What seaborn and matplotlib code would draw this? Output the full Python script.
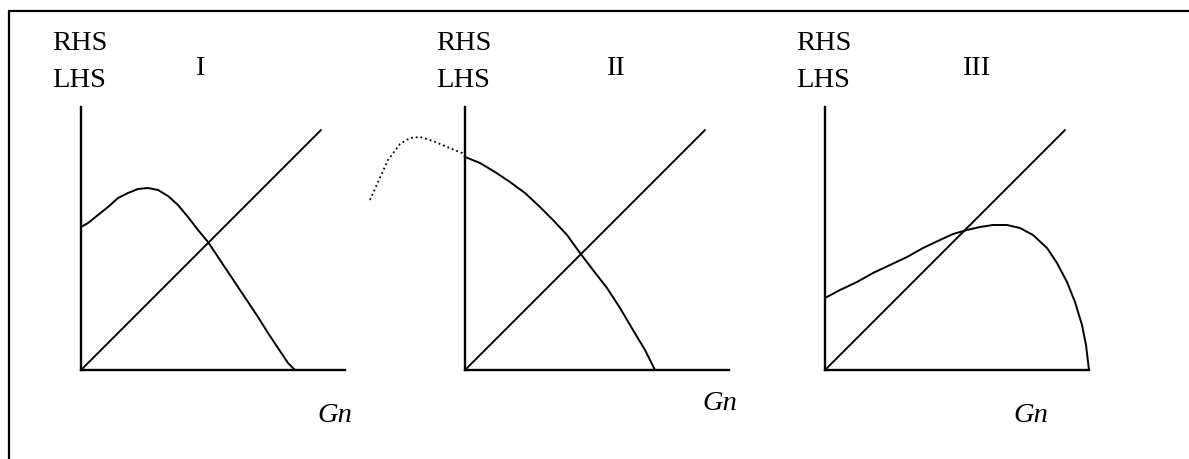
import matplotlib
matplotlib.use('Agg')
import matplotlib.pyplot as plt
import seaborn as sns
from matplotlib.lines import Line2D

sns.set_theme(style='white')
plt.rcParams['font.family'] = ['Liberation Serif', 'DejaVu Serif']
plt.rcParams['text.color'] = 'black'

# schematic curves, values measured from each panel's origin
panel_names = ['I', 'II', 'III']

diag_x = [0, 240]
diag_y = [0, 240]

rhs1_x = [0, 7, 17, 27, 37, 47, 57, 67, 77, 87, 97, 107, 117, 127, 137, 147,
          157, 167, 177, 187, 197, 207, 214]
rhs1_y = [143, 147, 155, 163, 172, 177, 181, 182, 180, 174, 165, 153, 140, 128, 113, 98,
          83, 68, 53, 37, 22, 7, 0]

rhs2_x = [0, 15, 30, 45, 60, 75, 88, 102, 115, 128, 142, 155, 168, 180, 190]
rhs2_y = [213, 207, 198, 188, 177, 163, 150, 135, 117, 100, 82, 62, 40, 20, 0]

# dotted continuation left of the axis in panel II
rhs2_dot_x = [-95, -87, -77, -65, -55, -45, -32, -18, -3, 0]
rhs2_dot_y = [170, 188, 210, 226, 232, 233, 229, 223, 217, 213]

rhs3_x = [0, 15, 32, 48, 65, 82, 98, 115, 128, 142, 155, 168, 182, 195, 208, 222,
          232, 242, 250, 257, 261, 264]
rhs3_y = [72, 80, 88, 97, 105, 113, 122, 130, 136, 140, 143, 145, 145, 142, 135, 122,
          107, 88, 68, 45, 25, 0]

curves = [(rhs1_x, rhs1_y), (rhs2_x, rhs2_y), (rhs3_x, rhs3_y)]

W, H = 1189, 459
origins = [(81, 370), (465, 370), (825, 370)]
ax_w, ax_h = 264, 263
numeral_pos = [(119, 295), (150, 295), (151, 295)]
gn_pos = [(236, -52), (237, -40), (188, -52)]
fs = 20.5

fig = plt.figure(figsize=(W / 100, H / 100), dpi=100)
fig.patch.set_facecolor('white')

# outer frame (top and left edges only visible)
fig.add_artist(Line2D([9 / W, 1], [1 - 11 / H, 1 - 11 / H], color='black', lw=1.6))
fig.add_artist(Line2D([9 / W, 9 / W], [1 - 11 / H, 0], color='black', lw=1.6))

for i, (ox, oy) in enumerate(origins):
    ax = fig.add_axes([ox / W, (H - oy) / H, ax_w / W, ax_h / H])
    ax.set_xlim(0, ax_w)
    ax.set_ylim(0, ax_h)
    ax.set_facecolor('none')
    for side in ['top', 'right']:
        ax.spines[side].set_visible(False)
    for side in ['left', 'bottom']:
        ax.spines[side].set_color('black')
        ax.spines[side].set_linewidth(1.7)
    ax.set_xticks([])
    ax.set_yticks([])

    sns.lineplot(x=diag_x, y=diag_y, ax=ax, color='black', linewidth=1.4, sort=False)
    cx, cy = curves[i]
    sns.lineplot(x=cx, y=cy, ax=ax, color='black', linewidth=1.4, sort=False, clip_on=False)
    if i == 1:
        sns.lineplot(x=rhs2_dot_x, y=rhs2_dot_y, ax=ax, color='black', linewidth=1.3,
                     linestyle=':', sort=False, clip_on=False)

    ax.text(-29, 320, 'RHS', fontsize=fs, color='black', ha='left', va='baseline', clip_on=False)
    ax.text(-29, 283, 'LHS', fontsize=fs, color='black', ha='left', va='baseline', clip_on=False)
    nx, ny = numeral_pos[i]
    ax.text(nx, ny, panel_names[i], fontsize=fs, color='black', ha='center', va='baseline',
            clip_on=False)
    gx, gy = gn_pos[i]
    ax.text(gx, gy, 'Gn', fontsize=fs, color='black', style='italic', ha='left',
            va='baseline', clip_on=False)
    ax.set_xlabel('')
    ax.set_ylabel('')

fig.savefig('out.png', dpi=100)
